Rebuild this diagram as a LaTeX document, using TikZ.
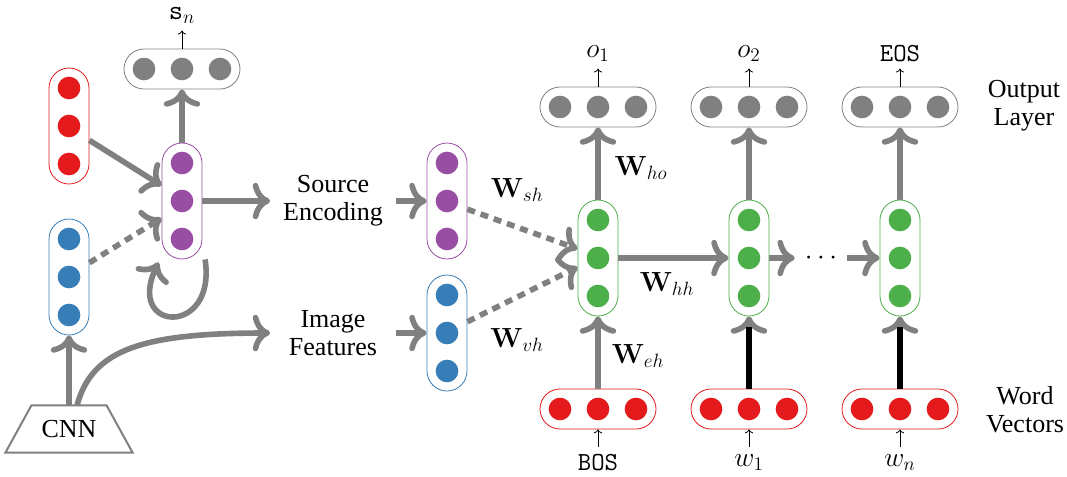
\documentclass[tikz,border=0pt]{standalone}
\usepackage[no-math]{fontspec}
\setmainfont{Liberation Serif}
\usepackage{tikz}
\usetikzlibrary{arrows,arrows.meta,positioning}

\definecolor{vred}{RGB}{228,26,28}
\definecolor{vblue}{RGB}{55,126,184}
\definecolor{vpurple}{RGB}{152,78,163}
\definecolor{vgreen}{RGB}{77,175,74}
\definecolor{vgray}{RGB}{128,128,128}

\begin{document}
\begin{tikzpicture}[x=0.75pt,y=0.75pt,yscale=-1,xscale=1,
  font=\rmfamily\fontsize{19.5}{21}\selectfont,
  vvec/.style={draw=#1,line width=0.6pt,rounded corners=15pt,minimum width=30pt,minimum height=87pt,inner sep=0pt},
  hvec/.style={draw=#1,line width=0.6pt,rounded corners=15pt,minimum width=87pt,minimum height=30pt,inner sep=0pt},
  unit/.style={circle,fill=#1,minimum size=17pt,inner sep=0pt},
  flow/.style={-{To[scale=1.2]},draw=vgray,line width=4.2pt},
  skip/.style={dash pattern=on 6pt off 4.5pt},
  readout/.style={->,line width=0.6pt},
  caption/.style={align=center,text width=94pt,inner sep=0pt},
  tag/.style={inner sep=5pt}
]
\useasboundingbox (0,0) rectangle (1067,476);

%Vectors: vertical
\foreach \nm/\x/\y/\col in {redL/69/126/vred, blueL/69/277/vblue, purpL/182/201/vpurple, purpM/447/201/vpurple, blueM/447/333/vblue, hid1/598/258/vgreen, hid2/749/258/vgreen, hid3/900/258/vgreen} {
  \node[vvec=\col] (\nm) at (\x,\y) {};
  \foreach \i/\d in {1/-38,2/0,3/38}
    \node[unit=\col] (\nm\i) at (\x,\y+\d) {};
}
%Vectors: horizontal
\foreach \nm/\x/\y/\col in {topS/182/69/vgray, out1/598/107/vgray, out2/749/107/vgray, out3/900/107/vgray, word1/598/409/vred, word2/749/409/vred, word3/900/409/vred} {
  \node[hvec=\col] (\nm) at (\x,\y) {};
  \foreach \i/\d in {1/-38,2/0,3/38}
    \node[unit=\col] (\nm\i) at (\x+\d,\y) {};
}

%CNN
\node[minimum width=56pt,minimum height=35pt,inner sep=0pt,text depth=-6pt] (cnn) at (69,429) {CNN};
\draw[vgray,line width=1.5pt,line join=miter] ([xshift=-19.5pt]cnn.south west) -- (cnn.north west) -- (cnn.north east) -- ([xshift=19.5pt]cnn.south east) -- cycle;

%Text Nodes
\node[caption] (srcTxt) at (333,201) {Source\\Encoding};
\node[caption] (imgTxt) at (333,333) {Image\\Features};
\node[minimum width=39pt,inner sep=0pt] (dots) at (821,258) {$\cdots$};
\node[align=center,inner sep=0pt] (outLay) at (1024,106) {Output\\Layer};
\node[align=center,inner sep=0pt] (wordVec) at (1025,410) {Word\\Vectors};

\node[tag,above=13.5pt of topS] (sn) {$\mathtt{s}_n$};
\node[tag,above=13.5pt of out1] (o1) {$o_1$};
\node[tag,above=13.5pt of out2] (o2) {$o_2$};
\node[tag,above=13.5pt of out3] (eos) {\texttt{EOS}};
\node[tag,below=13.5pt of word1] (bos) {\texttt{BOS}};
\node[tag,below=13.5pt of word2] (w1) {$w_1$};
\node[tag,below=13.5pt of word3] (wn) {$w_n$};

\node (wsh) at (517,190) {$\mathbf{W}_{sh}$};
\node (wvh) at (517,340) {$\mathbf{W}_{vh}$};
\node (who) at (641,168) {$\mathbf{W}_{ho}$};
\node (whh) at (667,284) {$\mathbf{W}_{hh}$};
\node (weh) at (638,356) {$\mathbf{W}_{eh}$};

%Encoder arrows
\draw[flow] (redL.-35) -- (purpL.143);
\draw[flow,skip] (blueL.35) -- (purpL.220);
\draw[flow] (purpL) -- (topS);
\draw[flow] ([xshift=2pt]purpL.south east) .. controls +(12,78) and +(-34,70) .. ([shift={(-3,3)}]purpL.south west);
\draw[flow] (purpL) -- (srcTxt);
\draw[flow] (cnn.north) -- (blueL);
\draw[flow] ([xshift=6pt]cnn.north) .. controls +(15,-55) and +(-130,0) .. (imgTxt.west);
\draw[flow] (srcTxt) -- (purpM);
\draw[flow] (imgTxt) -- (blueM);

%Decoder arrows
\draw[flow,skip] (purpM.-22) -- (hid1.156);
\draw[flow,skip] (blueM.29) -- (hid1.204);
\draw[flow] (hid1) -- (hid2);
\draw[flow] (hid2) -- (dots);
\draw[flow] (dots) -- (hid3);
\foreach \k in {1,2,3} \draw[flow] (hid\k) -- (out\k);
\foreach \k in {1,2,3} \draw[flow] (word\k) -- (hid\k);
\draw[line width=4.2pt,shorten >=8pt] (word2) -- (hid2);
\draw[line width=4.2pt,shorten >=8pt] (word3) -- (hid3);

%Readouts
\draw[readout] (topS) -- (sn);
\draw[readout] (out1) -- (o1);
\draw[readout] (out2) -- (o2);
\draw[readout] (out3) -- (eos);
\draw[readout] (bos) -- (word1);
\draw[readout] (w1) -- (word2);
\draw[readout] (wn) -- (word3);

\end{tikzpicture}
\end{document}
